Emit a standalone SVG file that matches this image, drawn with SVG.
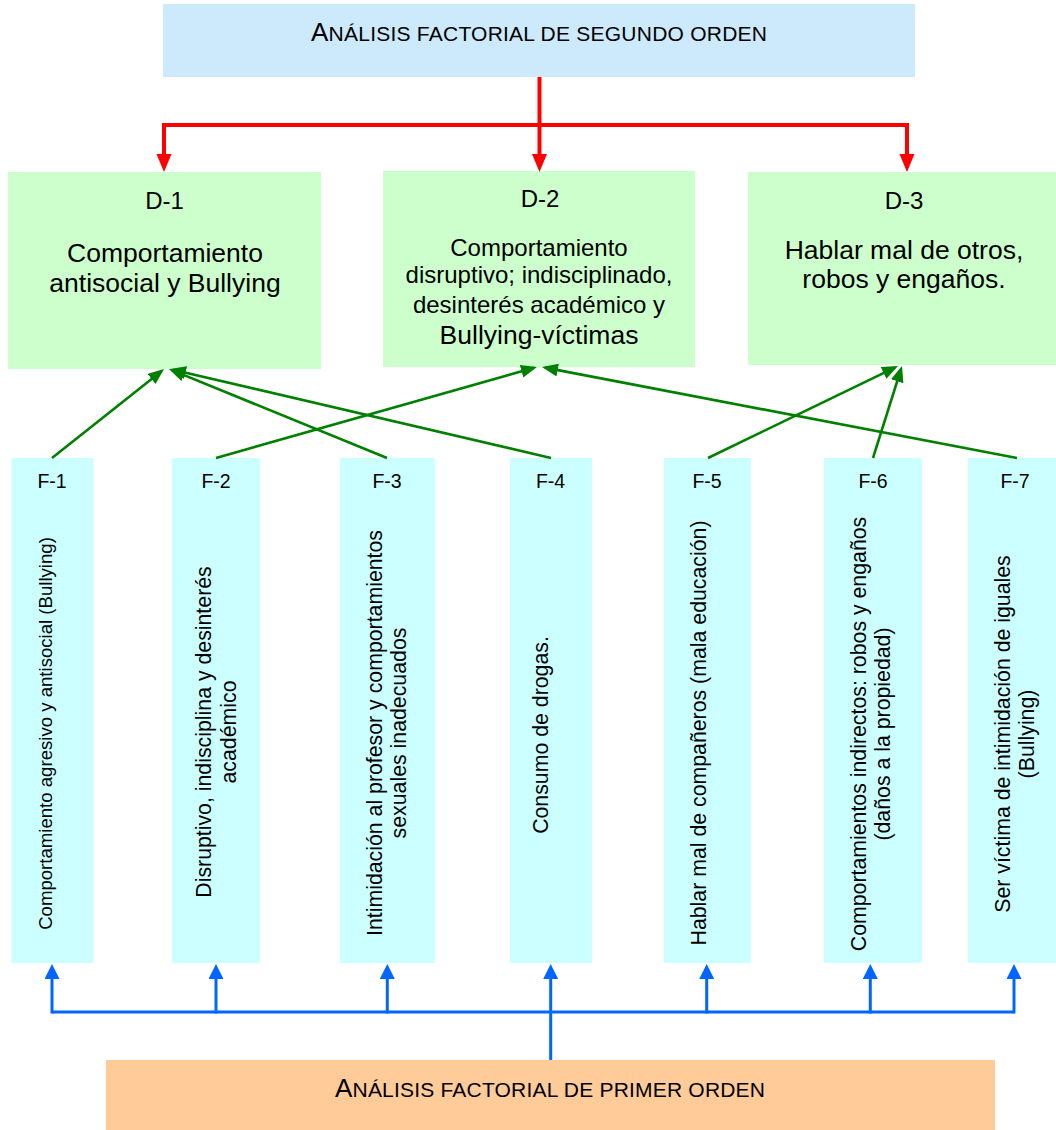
<svg xmlns="http://www.w3.org/2000/svg" width="1056" height="1130" viewBox="0 0 1056 1130">
  <style>
    text { font-family: "Liberation Sans", Arial, sans-serif; fill: #000; }
    .title { font-size: 26px; }
    .sc { font-size: 21px; }
    .dlab { font-size: 24px; text-anchor: middle; }
    .dtxt { font-size: 26.5px; text-anchor: middle; }
    .dsm { font-size: 24px; text-anchor: middle; }
    .flab { font-size: 19.5px; text-anchor: middle; }
    .ftxt { font-size: 21.3px; text-anchor: middle; }
    .top { fill: #cceafc; }
    .dbox { fill: #ccffcc; }
    .fbox { fill: #ccffff; }
    .bottom { fill: #ffcc99; }
    .red { stroke: #ff0000; stroke-width: 4; fill: none; }
    .green { stroke: #008000; stroke-width: 2.6; fill: none; }
    .blue { stroke: #0066ff; stroke-width: 3; fill: none; }
  </style>
  <defs>
    <marker id="ahRed" markerUnits="userSpaceOnUse" markerWidth="20" markerHeight="16" refX="1" refY="7.5" orient="auto">
      <path d="M0,0 L18,7.5 L0,15 z" fill="#ff0000"/>
    </marker>
    <marker id="ahGreen" markerUnits="userSpaceOnUse" markerWidth="18" markerHeight="14" refX="13" refY="6.5" orient="auto">
      <path d="M0,0 L16,6.5 L0,13 z" fill="#008000"/>
    </marker>
    <marker id="ahBlue" markerUnits="userSpaceOnUse" markerWidth="17" markerHeight="16" refX="1" refY="7.5" orient="auto">
      <path d="M0,0 L15,7.5 L0,15 z" fill="#0066ff"/>
    </marker>
  </defs>

  <!-- second-order analysis header (small caps set by hand) -->
  <g id="second-order">
    <rect class="top" x="163" y="4" width="752" height="73"/>
    <text class="title" x="311" y="41" textLength="456" lengthAdjust="spacing">A<tspan class="sc">NÁLISIS FACTORIAL DE SEGUNDO ORDEN</tspan></text>
  </g>

  <!-- dimensions -->
  <g id="D-1">
    <rect class="dbox" x="8" y="172" width="313" height="197"/>
    <text class="dlab" x="164.5" y="209">D-1</text>
    <text class="dtxt" x="165" y="261.7">Comportamiento</text>
    <text class="dtxt" x="165" y="291.7">antisocial y Bullying</text>
  </g>
  <g id="D-2">
    <rect class="dbox" x="383" y="171" width="312" height="196"/>
    <text class="dlab" x="540" y="207">D-2</text>
    <text class="dsm" x="539" y="256">Comportamiento</text>
    <text class="dsm" x="539" y="283">disruptivo; indisciplinado,</text>
    <text class="dsm" x="539" y="313">desinterés académico y</text>
    <text class="dtxt" x="539" y="344">Bullying-víctimas</text>
  </g>
  <g id="D-3">
    <rect class="dbox" x="748" y="172" width="308" height="193"/>
    <text class="dlab" x="904" y="209">D-3</text>
    <text class="dtxt" x="904" y="259.3">Hablar mal de otros,</text>
    <text class="dtxt" x="904" y="288.3">robos y engaños.</text>
  </g>

  <!-- first-order factors -->
  <g id="F-1">
    <rect class="fbox" x="11.5" y="458" width="82" height="505"/>
    <text class="flab" x="52" y="488">F-1</text>
    <text class="ftxt" style="font-size:18.6px" transform="translate(51.5,733.5) rotate(-90)">Comportamiento agresivo y antisocial (Bullying)</text>
  </g>
  <g id="F-2">
    <rect class="fbox" x="172" y="458" width="88" height="505"/>
    <text class="flab" x="216" y="488">F-2</text>
    <text class="ftxt" transform="translate(211,732) rotate(-90)">Disruptivo, indisciplina y desinterés</text>
    <text class="ftxt" transform="translate(235.5,732) rotate(-90)">académico</text>
  </g>
  <g id="F-3">
    <rect class="fbox" x="340" y="458" width="95" height="505"/>
    <text class="flab" x="387" y="488">F-3</text>
    <text class="ftxt" transform="translate(381.7,733) rotate(-90)">Intimidación al profesor y comportamientos</text>
    <text class="ftxt" transform="translate(406,733) rotate(-90)">sexuales inadecuados</text>
  </g>
  <g id="F-4">
    <rect class="fbox" x="510" y="458" width="82" height="505"/>
    <text class="flab" x="550.5" y="488">F-4</text>
    <text class="ftxt" transform="translate(548,735) rotate(-90)">Consumo de drogas.</text>
  </g>
  <g id="F-5">
    <rect class="fbox" x="664" y="458" width="87" height="505"/>
    <text class="flab" x="707" y="488">F-5</text>
    <text class="ftxt" transform="translate(706,733) rotate(-90)">Hablar mal de compañeros (mala educación)</text>
  </g>
  <g id="F-6">
    <rect class="fbox" x="824" y="458" width="98" height="505"/>
    <text class="flab" x="873" y="488">F-6</text>
    <text class="ftxt" transform="translate(865.5,734) rotate(-90)">Comportamientos indirectos: robos y engaños</text>
    <text class="ftxt" transform="translate(890,734) rotate(-90)">(daños a la propiedad)</text>
  </g>
  <g id="F-7">
    <rect class="fbox" x="968" y="458" width="92" height="505"/>
    <text class="flab" x="1015" y="488">F-7</text>
    <text class="ftxt" transform="translate(1009.5,734) rotate(-90)">Ser víctima de intimidación de iguales</text>
    <text class="ftxt" transform="translate(1034,734) rotate(-90)">(Bullying)</text>
  </g>

  <!-- first-order analysis footer -->
  <g id="first-order">
    <rect class="bottom" x="106" y="1060" width="889" height="70"/>
    <text class="title" x="335" y="1097" textLength="430" lengthAdjust="spacing">A<tspan class="sc">NÁLISIS FACTORIAL DE PRIMER ORDEN</tspan></text>
  </g>

  <g id="connectors">
    <!-- header to dimensions -->
    <path class="red" d="M539.5 77 V125 M162 125 H909"/>
    <path class="red" d="M164 125 V155" marker-end="url(#ahRed)"/>
    <path class="red" d="M539.5 125 V155" marker-end="url(#ahRed)"/>
    <path class="red" d="M907 125 V155" marker-end="url(#ahRed)"/>

    <!-- factors to dimensions -->
    <path class="green" d="M52 458 L161.7 370.9" marker-end="url(#ahGreen)"/>
    <path class="green" d="M387 458 L171.8 370.1" marker-end="url(#ahGreen)"/>
    <path class="green" d="M551 458 L172.9 369.7" marker-end="url(#ahGreen)"/>
    <path class="green" d="M216 458 L534.1 367.8" marker-end="url(#ahGreen)"/>
    <path class="green" d="M1017 458 L544.9 367.6" marker-end="url(#ahGreen)"/>
    <path class="green" d="M708 458 L895.3 367.3" marker-end="url(#ahGreen)"/>
    <path class="green" d="M873 458 L901.1 368.9" marker-end="url(#ahGreen)"/>

    <!-- footer to factors -->
    <path class="blue" d="M550.7 1060 V1012 M52 1012 H1014"/>
    <path class="blue" d="M52 1013.5 V978" marker-end="url(#ahBlue)"/>
    <path class="blue" d="M216 1013.5 V978" marker-end="url(#ahBlue)"/>
    <path class="blue" d="M387.3 1013.5 V978" marker-end="url(#ahBlue)"/>
    <path class="blue" d="M550.7 1013.5 V978" marker-end="url(#ahBlue)"/>
    <path class="blue" d="M706.7 1013.5 V978" marker-end="url(#ahBlue)"/>
    <path class="blue" d="M870.3 1013.5 V978" marker-end="url(#ahBlue)"/>
    <path class="blue" d="M1014 1013.5 V978" marker-end="url(#ahBlue)"/>
  </g>
</svg>
